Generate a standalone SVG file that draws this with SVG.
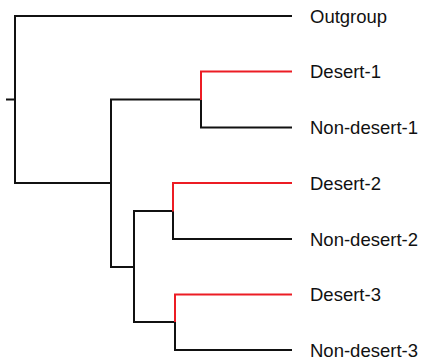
<svg xmlns="http://www.w3.org/2000/svg" width="424" height="364" viewBox="0 0 424 364">
<style>
.b{fill:none;stroke:#111;stroke-width:2;stroke-linejoin:miter;stroke-linecap:butt}
.r{fill:none;stroke:#ec1c24;stroke-width:2;stroke-linejoin:miter;stroke-linecap:butt}
.t{font-family:"Liberation Sans",Arial,sans-serif;font-size:18.5px;fill:#111}
</style>
<rect width="424" height="364" fill="#fff"/>
<g id="connectors">
<path class="b" d="M6,99.5H15M15,15V184M14,16H292M14,183H111M111,98.5V268M110,99.5H201M201,99.5V128.5M200,127.5H292M110,267H134M134,210V323M133,211H173M173,211V240M172,239H292M133,322H175M175,322V351M174,350H292"/>
<path class="r" d="M201,100V71.5H292M173,211.5V183H292M175,322V294.5H292"/>
</g>
<g id="outgroup"><text class="t" x="310" y="22.5">Outgroup</text></g>
<g id="desert1"><text class="t" x="310" y="78">Desert-1</text></g>
<g id="nondesert1"><text class="t" x="310" y="134">Non-desert-1</text></g>
<g id="desert2"><text class="t" x="310" y="189.5">Desert-2</text></g>
<g id="nondesert2"><text class="t" x="310" y="245.5">Non-desert-2</text></g>
<g id="desert3"><text class="t" x="310" y="301">Desert-3</text></g>
<g id="nondesert3"><text class="t" x="310" y="356.5">Non-desert-3</text></g>
</svg>
